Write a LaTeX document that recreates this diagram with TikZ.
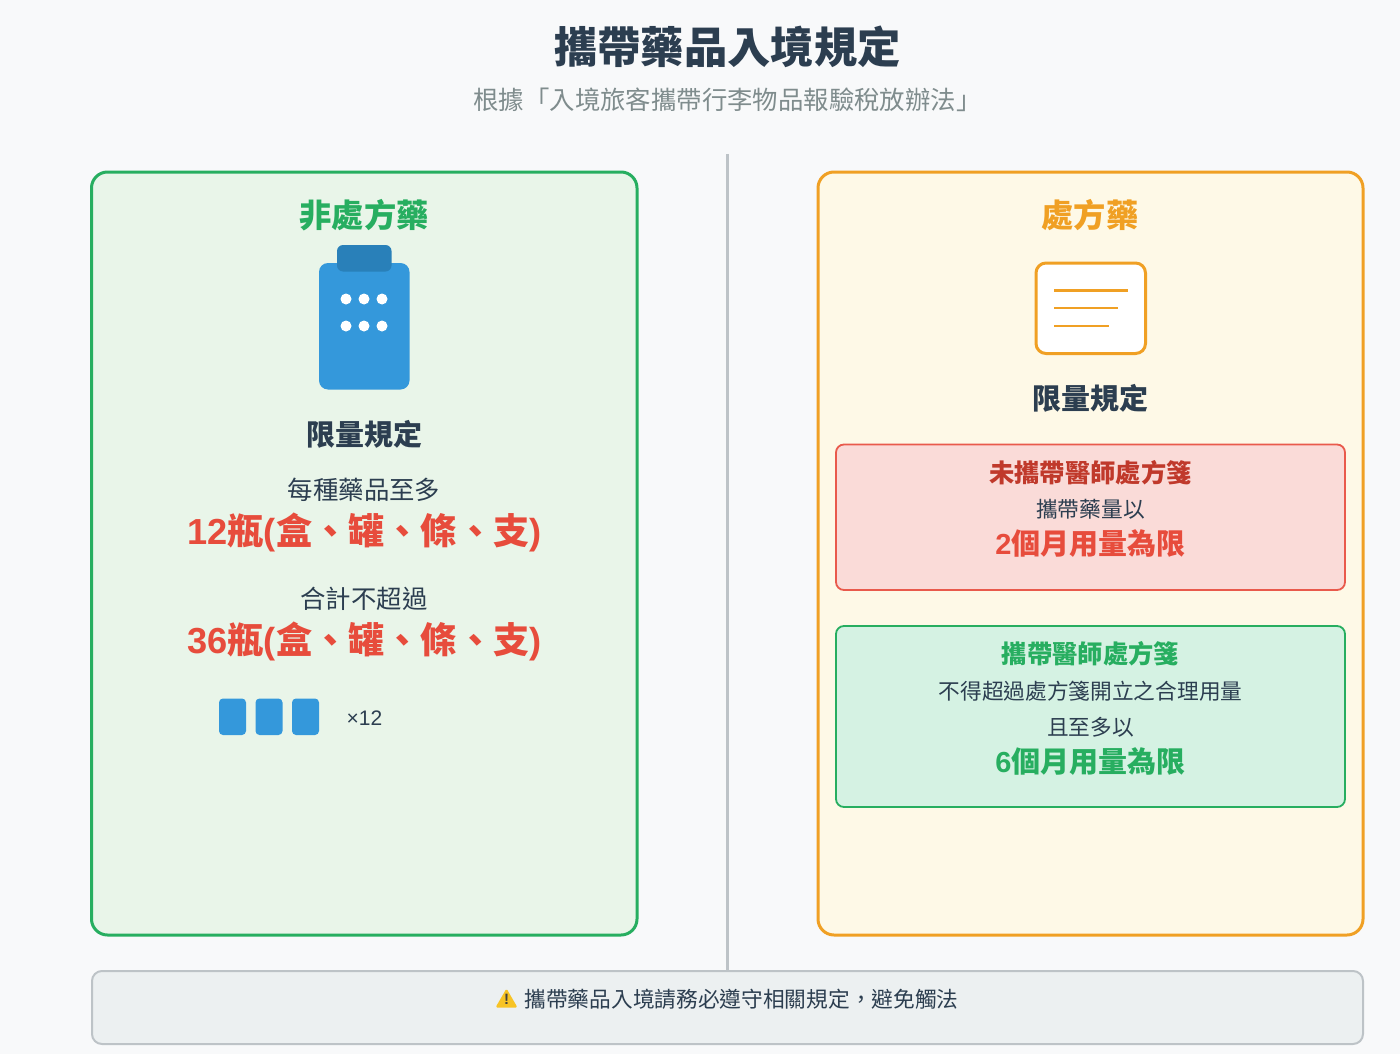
\documentclass[tikz,border=0pt]{standalone}
\usepackage{fontspec}
\setmainfont{Liberation Sans}
\newfontfamily\cjk{Noto Sans CJK TC}
\newcommand{\ltn}[1]{{\rmfamily #1}}
\definecolor{pagebg}{HTML}{F8F9FA}
\definecolor{ink}{HTML}{2C3E50}
\definecolor{inkgray}{HTML}{7F8C8D}
\definecolor{rulegray}{HTML}{BDC3C7}
\definecolor{okgreen}{HTML}{27AE60}
\definecolor{okbg}{HTML}{E9F5E9}
\definecolor{rxorange}{HTML}{F0A024}
\definecolor{rxbg}{HTML}{FEF9E7}
\definecolor{alert}{HTML}{E74C3C}
\definecolor{alertdark}{HTML}{C0392B}
\definecolor{alertbg}{HTML}{FADBD8}
\definecolor{mintbg}{HTML}{D5F2E3}
\definecolor{pillblue}{HTML}{3498DB}
\definecolor{capblue}{HTML}{2980B9}
\definecolor{notebg}{HTML}{ECF0F1}
\definecolor{warnyellow}{HTML}{F7C325}
\newcommand{\sized}[1]{\fontsize{#1}{#1}\selectfont}
\tikzset{
  txt/.style={text=ink,font=\sized{21.7}\cjk,inner sep=0pt,anchor=center},
  head/.style={txt,font=\sized{32.3}\cjk\bfseries},
  subhead/.style={txt,font=\sized{29}\cjk\bfseries},
  lead/.style={txt,font=\sized{25.4}\cjk},
  big/.style={txt,text=alert,font=\sized{36.2}\cjk\bfseries},
  boxhead/.style={txt,font=\sized{25.3}\cjk\bfseries},
  boxbig/.style={txt,font=\sized{29}\cjk\bfseries},
  panel/.style={line width=3pt,rounded corners=16pt},
  infobox/.style={line width=1.8pt,rounded corners=8pt},
  bottle/.style={fill=pillblue,rounded corners=4pt},
}
\begin{document}
\begin{tikzpicture}[x=1pt,y=-1pt]
\useasboundingbox (0,0) rectangle (1400,1054);
\fill[pagebg] (0,0) rectangle (1400,1054);

\node[txt,text=ink,font=\sized{43.3}\cjk\bfseries] (title) at (727.5,47) {攜帶藥品入境規定};
\node[txt,text=inkgray,font=\sized{25.4}\cjk] (subtitle) at (727.5,99.5) {根據「入境旅客攜帶行李物品報驗稅放辦法」};

% divider and panels
\draw[rulegray,line width=3pt] (727.5,154) -- (727.5,970);
\draw[panel,draw=okgreen,fill=okbg] (91.5,172) rectangle (637,935);
\draw[panel,draw=rxorange,fill=rxbg] (818,172) rectangle (1363,935);

% left panel
\node[head,text=okgreen] (otctitle) at (364,215) {非處方藥};
\fill[pillblue,rounded corners=9pt] (319,263) rectangle (409.5,389.5);
\fill[capblue,rounded corners=6pt] (337,245) rectangle (391.5,271.5);
\foreach \x in {346,364,382}
  \foreach \y in {299,326}
    \fill[white] (\x,\y) circle (5.5pt);
\node[subhead] (otclimit) at (364,434) {限量規定};
\node[lead] (each) at (364,490) {每種藥品至多};
\node[big] (eachmax) at (364.5,532) {\ltn{12}瓶\ltn{(}盒、罐、條、支\ltn{)}};
\node[lead] (total) at (364,599) {合計不超過};
\node[big] (totalmax) at (364.5,641) {\ltn{36}瓶\ltn{(}盒、罐、條、支\ltn{)}};
\foreach \x in {219,255.5,292}
  \fill[bottle] (\x,698.5) rectangle +(27,36.5);
\node[txt,font=\sized{21}\rmfamily] (times) at (364.5,718) {×12};

% right panel
\node[head,text=rxorange] (rxtitle) at (1090,215) {處方藥};
\draw[rxorange,fill=white,line width=3pt,rounded corners=10pt] (1036,263) rectangle (1145.5,353.5);
\draw[rxorange,line width=3pt] (1054,290) -- (1127.5,290);
\draw[rxorange,line width=2pt] (1054,308) -- (1118,308);
\draw[rxorange,line width=2pt] (1054,326) -- (1109,326);
\node[subhead] (rxlimit) at (1090,398) {限量規定};

\draw[infobox,draw=alert!90!alertbg,fill=alertbg] (836,444.5) rectangle (1345,590);
\node[boxhead,text=alertdark] (nonote) at (1090.5,472.5) {未攜帶醫師處方箋};
\node[txt] (nonotetxt) at (1090.5,509.5) {攜帶藥量以};
\node[boxbig,text=alert] (nonotemax) at (1090.5,543.5) {\ltn{2}個月用量為限};

\draw[infobox,draw=okgreen,fill=mintbg] (836,626) rectangle (1345,807);
\node[boxhead,text=okgreen] (note) at (1090.5,654) {攜帶醫師處方箋};
\node[txt] (notetxt) at (1090.5,691.5) {不得超過處方箋開立之合理用量};
\node[txt] (notetxtb) at (1090.5,727.5) {且至多以};
\node[boxbig,text=okgreen] (notemax) at (1090.5,761.5) {\ltn{6}個月用量為限};

% footer
\draw[rulegray,fill=notebg,line width=2pt,rounded corners=10pt] (92,971) rectangle (1363,1044);
\fill[warnyellow,rounded corners=1.5pt] (506.5,988.5) -- (517.5,1007.5) -- (495.5,1007.5) -- cycle;
\node[txt,font=\sized{15}\rmfamily\bfseries,text=black!75] (warnmark) at (506.5,999.5) {!};
\node[txt] (warning) at (741.5,999.5) {攜帶藥品入境請務必遵守相關規定\char"FF0C 避免觸法};
\end{tikzpicture}
\end{document}
